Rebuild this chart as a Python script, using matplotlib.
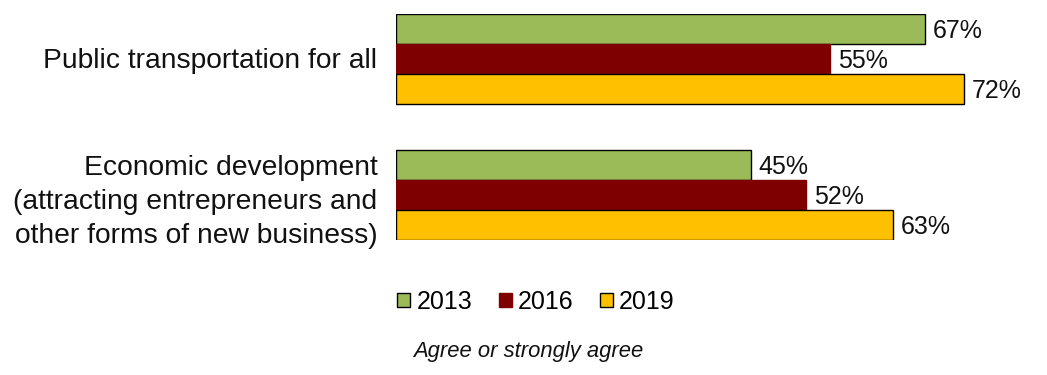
import matplotlib
matplotlib.use("Agg")
import matplotlib.pyplot as plt
from matplotlib.patches import Patch
import numpy as np

plt.rcParams["font.family"] = ["Liberation Sans", "DejaVu Sans"]

categories = [
    "Public transportation for all",
    "Economic development\n(attracting entrepreneurs and\nother forms of new business)",
]
years = ["2013", "2016", "2019"]
values = {
    "2013": [67, 45],
    "2016": [55, 52],
    "2019": [72, 63],
}
colors = {"2013": "#9BBB59", "2016": "#7F0000", "2019": "#FFC000"}
edges = {"2013": "black", "2016": "#7F0000", "2019": "black"}
note = "Agree or strongly agree"

W, H = 1047, 375
fig = plt.figure(figsize=(W / 100, H / 100), dpi=100)
ax = fig.add_axes([396 / W, 1 - 239.5 / H, 634 / W, 226 / H])

bar_h = 30 / 136
y = np.arange(len(categories))
for i, yr in enumerate(years):
    pos = y + (i - 1) * bar_h
    ax.barh(pos, values[yr], height=bar_h, color=colors[yr],
            edgecolor=edges[yr], linewidth=1.0)
    for p, v in zip(pos, values[yr]):
        ax.annotate(f"{v}%", xy=(v, p), xytext=(5.5, -2), textcoords="offset points",
                    ha="left", va="center", fontsize=18, color="#111111")

ax.set_xlim(0, 634 / 7.89)
ax.set_ylim(1 + 1.5 * bar_h, -1.5 * bar_h)
ax.set_yticks(y)
ax.set_yticklabels(categories, fontsize=20.3, color="#111111", linespacing=1.4)
ax.tick_params(axis="y", length=0, pad=13.5)
ax.set_xticks([])
for s in ax.spines.values():
    s.set_visible(False)

handles = [Patch(facecolor=colors[yr], edgecolor=edges[yr], linewidth=1.0, label=yr)
           for yr in years]
fig.legend(handles=handles, loc="center", bbox_to_anchor=(536 / W, 1 - 302 / H),
           ncol=3, frameon=False, fontsize=18, handlelength=0.52, handleheight=0.52,
           handletextpad=0.25, columnspacing=1.05, borderpad=0)

fig.text(528 / W, 1 - 351 / H, note, ha="center", va="center", fontsize=15.8,
         style="italic", color="#111111")

fig.savefig("out.png", dpi=100, facecolor="white")
